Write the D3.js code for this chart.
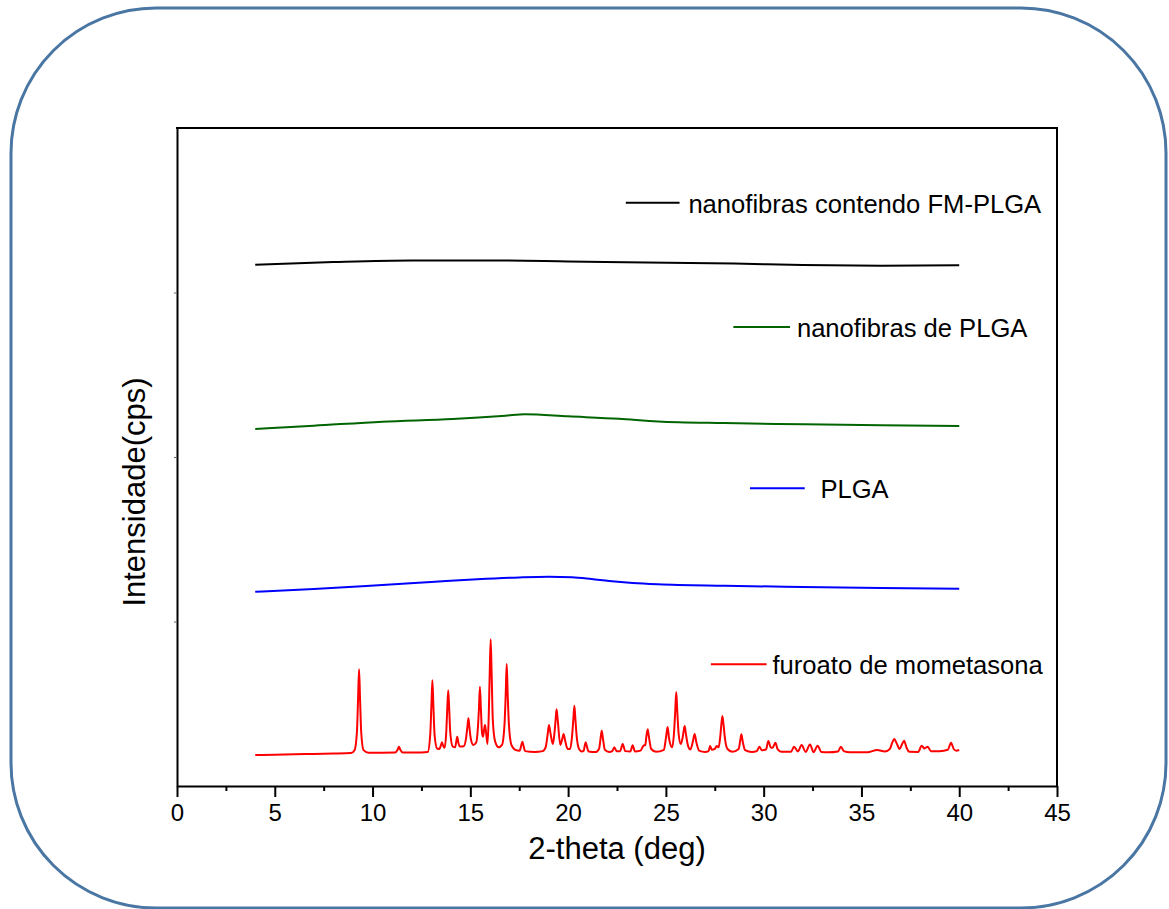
<!DOCTYPE html>
<html>
<head>
<meta charset="utf-8">
<script src="https://cdn.jsdelivr.net/npm/d3@7/dist/d3.min.js"></script>
<style>
  html, body { margin: 0; padding: 0; background: #fff; }
  svg { display: block; font-family: "Liberation Sans", Arial, sans-serif; }
</style>
</head>
<body>
<svg id="chart" width="1169" height="909"></svg>
<script>
// X-ray diffraction patterns (2θ in degrees vs. intensity, offset per sample)
const xTicks = [0, 5, 10, 15, 20, 25, 30, 35, 40, 45];
const xMinorTicks = [2.5, 7.5, 12.5, 17.5, 22.5, 27.5, 32.5, 37.5, 42.5];
const yTicks = [1000, 2000, 3000];

const seriesNames = ["nanofibras contendo FM-PLGA", "nanofibras de PLGA", "PLGA", "furoato de mometasona"];
const seriesColors = ["#000000", "#006400", "#0000ff", "#ff0000"];

// nanofibras contendo FM-PLGA
const fibrasFM = [
  [4, 3168], [8, 3185], [12, 3195], [16, 3195], [20, 3189], [24, 3182],
  [28.5, 3176], [32, 3167], [36, 3163], [40, 3166]
];

// nanofibras de PLGA
const fibrasPLGA = [
  [4, 2170], [7, 2190], [10.5, 2215], [14.1, 2231], [16.8, 2251], [17.8, 2260],
  [20, 2247], [22.6, 2232], [24.6, 2216], [28, 2206], [32.1, 2199], [36, 2193], [40, 2188]
];

// PLGA
const plga = [
  [4, 1181], [7, 1198], [10.5, 1222], [13, 1240], [15.35, 1257], [17.5, 1268],
  [19, 1272], [20.2, 1269], [21.2, 1258], [22.1, 1246], [23.3, 1234], [24.6, 1226],
  [28, 1217], [32, 1210], [36, 1204], [40, 1199]
];

// furoato de mometasona (crystalline drug)
const furoato = [
  [4.0, 188], [5, 190], [6, 193], [7, 195], [8, 197], [8.9, 200],
  [9.08, 218], [9.2, 327], [9.26, 530], [9.31, 709], [9.36, 530], [9.42, 327], [9.54, 218], [9.8, 202],
  [10.5, 202], [11.15, 203], [11.28, 220], [11.35, 239], [11.42, 220], [11.55, 203],
  [12.5, 204], [12.82, 207], [12.95, 314], [13.01, 490], [13.06, 643], [13.11, 490], [13.17, 314], [13.3, 228],
  [13.42, 225], [13.49, 245], [13.55, 266], [13.61, 245], [13.68, 232],
  [13.77, 330], [13.82, 470], [13.87, 582], [13.92, 470], [13.97, 330], [14.1, 240],
  [14.22, 235], [14.28, 268], [14.33, 300], [14.38, 268], [14.48, 240],
  [14.66, 242], [14.78, 290], [14.85, 360], [14.9, 412], [14.95, 360], [15.02, 290], [15.15, 250],
  [15.3, 265], [15.39, 360], [15.44, 470], [15.49, 604], [15.54, 470], [15.6, 320],
  [15.65, 300], [15.7, 340], [15.75, 371], [15.8, 330], [15.88, 255],
  [15.94, 420], [15.99, 680], [16.04, 892], [16.09, 680], [16.15, 400], [16.27, 270], [16.45, 236],
  [16.62, 250], [16.75, 380], [16.81, 560], [16.86, 742], [16.91, 560], [16.97, 380], [17.1, 250], [17.3, 220],
  [17.52, 215], [17.6, 245], [17.66, 269], [17.72, 245], [17.8, 212],
  [18.3, 207], [18.7, 212], [18.85, 235], [18.95, 310], [19.02, 371], [19.1, 320], [19.22, 255],
  [19.3, 320], [19.36, 400], [19.41, 466], [19.47, 400], [19.6, 250],
  [19.7, 285], [19.77, 316], [19.85, 275], [19.98, 225],
  [20.1, 225], [20.2, 300], [20.27, 410], [20.32, 488], [20.37, 410], [20.44, 300], [20.56, 225], [20.7, 210],
  [20.8, 215], [20.85, 245], [20.9, 266], [20.95, 245], [21.05, 210],
  [21.4, 206], [21.58, 225], [21.66, 290], [21.72, 336], [21.78, 290], [21.88, 220], [22.1, 207],
  [22.26, 212], [22.36, 235], [22.48, 212],
  [22.66, 212], [22.79, 255], [22.92, 212],
  [23.18, 210], [23.3, 247], [23.42, 210],
  [23.7, 215], [23.85, 245], [23.95, 250], [24.0, 300], [24.07, 345], [24.13, 300], [24.25, 225], [24.5, 208],
  [24.9, 220], [25.0, 290], [25.09, 359], [25.16, 290], [25.32, 235],
  [25.42, 330], [25.48, 460], [25.53, 571], [25.58, 460], [25.65, 320], [25.76, 255],
  [25.85, 290], [25.91, 335], [25.96, 365], [26.02, 320], [26.12, 250], [26.25, 222],
  [26.38, 270], [26.47, 316], [26.55, 270], [26.7, 215], [27.0, 207],
  [27.18, 212], [27.26, 243], [27.35, 220], [27.5, 225], [27.6, 243], [27.7, 235],
  [27.78, 300], [27.84, 380], [27.89, 426], [27.95, 370], [28.02, 290], [28.15, 225], [28.4, 208],
  [28.72, 225], [28.8, 275], [28.86, 314], [28.93, 270], [29.05, 218], [29.4, 207],
  [29.65, 212], [29.78, 239], [29.9, 218],
  [30.12, 222], [30.24, 274], [30.36, 235], [30.45, 232], [30.6, 263], [30.72, 222], [30.9, 208],
  [31.4, 208], [31.55, 239], [31.75, 210], [31.94, 249], [32.15, 207], [32.37, 253], [32.55, 205],
  [32.76, 245], [32.95, 207],
  [33.3, 205], [33.8, 210], [33.95, 239], [34.1, 212], [34.4, 205],
  [35.3, 205], [35.81, 219], [36.2, 210],
  [36.45, 225], [36.58, 265], [36.68, 286], [36.8, 260], [36.95, 225],
  [37.08, 255], [37.18, 275], [37.3, 235], [37.45, 208],
  [37.9, 207], [38.08, 245], [38.22, 228], [38.39, 239], [38.55, 212], [39.0, 212],
  [39.42, 220], [39.58, 263], [39.72, 225], [39.85, 215], [40.0, 219]
];

const allSeries = [fibrasFM, fibrasPLGA, plga, furoato];

// legend entries: line start/end (2θ units) and vertical position (intensity units)
const legendX = [[22.95, 25.7], [28.45, 31.35], [29.3, 32.1], [27.3, 30.15]];
const legendY = [3545, 2790, 1810, 740];
const legendTextGap = [0.45, 0.35, 0.8, 0.3];

const svg = d3.select("#chart");
const plot = { left: 177, right: 1057, top: 128, bottom: 786 };

// rounded frame around the figure
svg.append("rect")
  .attr("x", 11).attr("y", 8)
  .attr("width", 1155).attr("height", 900)
  .attr("rx", 145).attr("ry", 145)
  .attr("fill", "#fff")
  .attr("stroke", "#4a76a4")
  .attr("stroke-width", 3);

const x = d3.scaleLinear().domain([0, 45]).range([plot.left, plot.right]);
const y = d3.scaleLinear().domain([0, 4000]).range([plot.bottom, plot.top]);

// x axis: major + minor ticks
const xAxis = svg.append("g")
  .attr("transform", `translate(0,${plot.bottom})`)
  .call(d3.axisBottom(x).tickValues(xTicks).tickSize(11).tickSizeOuter(0).tickPadding(7).tickFormat(d3.format("d")));
xAxis.select(".domain").attr("stroke-width", 2);
xAxis.selectAll(".tick line").attr("stroke-width", 2);
xAxis.selectAll(".tick text")
  .attr("font-size", 24)
  .attr("font-family", "Liberation Sans, Arial, sans-serif")
  .attr("fill", "#000");

const xMinor = svg.append("g")
  .attr("transform", `translate(0,${plot.bottom})`)
  .call(d3.axisBottom(x).tickValues(xMinorTicks).tickSize(5).tickSizeOuter(0).tickFormat(""));
xMinor.select(".domain").remove();
xMinor.selectAll(".tick line").attr("stroke-width", 2);

// y axis without labels
const yAxis = svg.append("g")
  .attr("transform", `translate(${plot.left},0)`)
  .call(d3.axisLeft(y).tickValues(yTicks).tickSize(3).tickSizeOuter(0).tickFormat(""));
yAxis.select(".domain").attr("stroke-width", 2);
yAxis.selectAll(".tick line").attr("stroke", "#666").attr("stroke-width", 1);

// top and right frame lines
svg.append("line")
  .attr("x1", plot.left - 1).attr("x2", plot.right + 1)
  .attr("y1", plot.top).attr("y2", plot.top)
  .attr("stroke", "#000").attr("stroke-width", 2);
svg.append("line")
  .attr("x1", plot.right).attr("x2", plot.right)
  .attr("y1", plot.top - 1).attr("y2", plot.bottom + 1)
  .attr("stroke", "#000").attr("stroke-width", 2);

// diffraction curves
const line = d3.line()
  .x(d => x(d[0]))
  .y(d => y(d[1]))
  .curve(d3.curveMonotoneX);

svg.append("g").selectAll("path")
  .data(allSeries)
  .join("path")
  .attr("d", line)
  .attr("fill", "none")
  .attr("stroke", (d, i) => seriesColors[i])
  .attr("stroke-width", 2)
  .attr("stroke-linejoin", "round");

// legend labels next to each curve
const legend = svg.append("g");
seriesNames.forEach((name, i) => {
  const [a, b] = legendX[i];
  const ly = y(legendY[i]);
  legend.append("line")
    .attr("x1", x(a)).attr("x2", x(b))
    .attr("y1", ly).attr("y2", ly)
    .attr("stroke", seriesColors[i]).attr("stroke-width", 2);
  legend.append("text")
    .attr("x", x(b + legendTextGap[i]))
    .attr("y", ly + 10)
    .attr("font-size", 25.6)
    .attr("fill", "#000")
    .text(name);
});

// axis titles
svg.append("text")
  .attr("x", 617)
  .attr("y", 859)
  .attr("text-anchor", "middle")
  .attr("font-size", 31)
  .attr("fill", "#000")
  .text("2-theta (deg)");

svg.append("text")
  .attr("transform", "translate(145,492) rotate(-90)")
  .attr("text-anchor", "middle")
  .attr("font-size", 31)
  .attr("fill", "#000")
  .text("Intensidade(cps)");
</script>
</body>
</html>
